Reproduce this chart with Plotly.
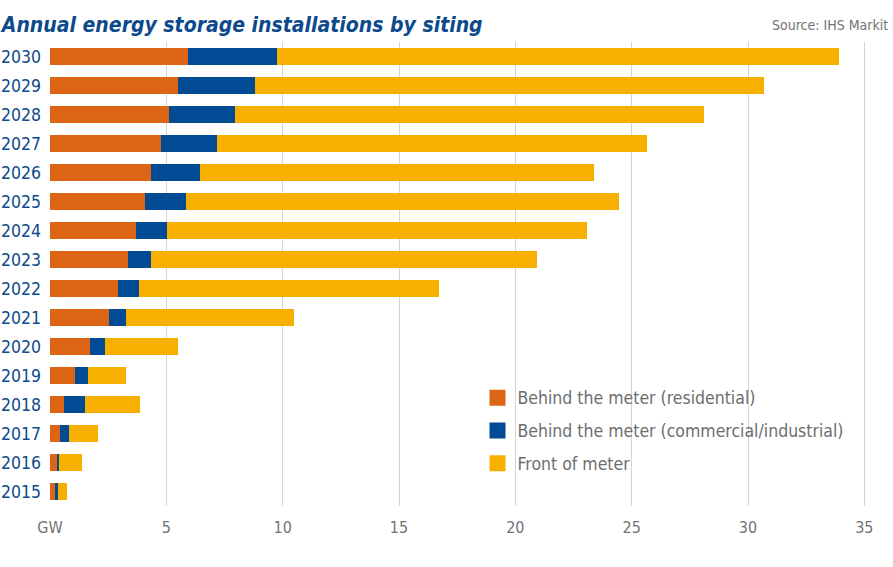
import plotly.graph_objects as go

years = [str(y) for y in range(2015, 2031)]
residential = [0.20, 0.28, 0.42, 0.62, 1.09, 1.71, 2.52, 2.92, 3.34, 3.68, 4.10, 4.36, 4.77, 5.12, 5.50, 5.92]
commercial = [0.13, 0.12, 0.41, 0.87, 0.55, 0.67, 0.75, 0.89, 1.02, 1.34, 1.74, 2.10, 2.42, 2.82, 3.33, 3.84]
front = [0.42, 0.96, 1.22, 2.39, 1.63, 3.12, 7.20, 12.89, 16.56, 18.07, 18.62, 16.91, 18.48, 20.18, 21.87, 24.13]

series_names = ["Behind the meter (residential)",
                "Behind the meter (commercial/industrial)",
                "Front of meter"]
colors = ["#dc6516", "#004b93", "#f8b000"]

x_ticks = [0, 5, 10, 15, 20, 25, 30, 35]
x_tick_labels = ["GW", "5", "10", "15", "20", "25", "30", "35"]

FONT = "DejaVu Sans Condensed, sans-serif"

fig = go.Figure()
for name, vals, col in zip(series_names, [residential, commercial, front], colors):
    fig.add_trace(go.Bar(y=years, x=vals, orientation="h", name=name,
                         marker=dict(color=col, line=dict(width=0)),
                         showlegend=False))
for i, (name, col) in enumerate(zip(series_names, colors)):
    fig.add_trace(go.Scatter(x=[None], y=[None], mode="markers", name=name,
                             legendgroup=f"g{i}",
                             marker=dict(symbol="square", size=16, color=col)))

fig.update_layout(
    width=893, height=567,
    margin=dict(l=50, r=24, t=42, b=61),
    paper_bgcolor="white", plot_bgcolor="white",
    barmode="stack", bargap=0.41,
    font=dict(family=FONT),
    title=dict(text="Annual energy storage installations by siting",
               font=dict(family=FONT, size=21, color="#0d4a8c", weight="bold", style="italic"),
               xref="container", yref="container", x=0.002, xanchor="left",
               pad=dict(l=0, r=0, t=0, b=0),
               y=1 - 25 / 567, yanchor="middle"),
    xaxis=dict(range=[0, 35.2], tickvals=x_ticks, ticktext=x_tick_labels,
               showgrid=True, gridcolor="#d4d4d4", gridwidth=1,
               zeroline=False, showline=False, ticks="", automargin=False,
               ticklabelstandoff=10,
               tickfont=dict(size=16, color="#707376")),
    yaxis=dict(type="category", showgrid=False, showline=False, ticks="",
               automargin=False,
               tickfont=dict(size=17.5, color="#0d4a8c"), ticklabelstandoff=8),
    legend=dict(x=0.522, y=0.272, xanchor="left", yanchor="top",
                xref="paper", yref="paper",
                font=dict(size=17.5, color="#6b6e70"),
                traceorder="grouped", tracegroupgap=7,
                itemwidth=30, bgcolor="rgba(0,0,0,0)"),
    annotations=[dict(text="Source: IHS Markit", xref="paper", yref="paper",
                      x=(890 - 50) / 819, y=(506.5 - 25) / 464,
                      xanchor="right", yanchor="middle", showarrow=False,
                      font=dict(family=FONT, size=14, color="#707376"))],
)

fig.write_html("out.html", post_script="document.body.style.margin='0';",
               config={"displayModeBar": False})
